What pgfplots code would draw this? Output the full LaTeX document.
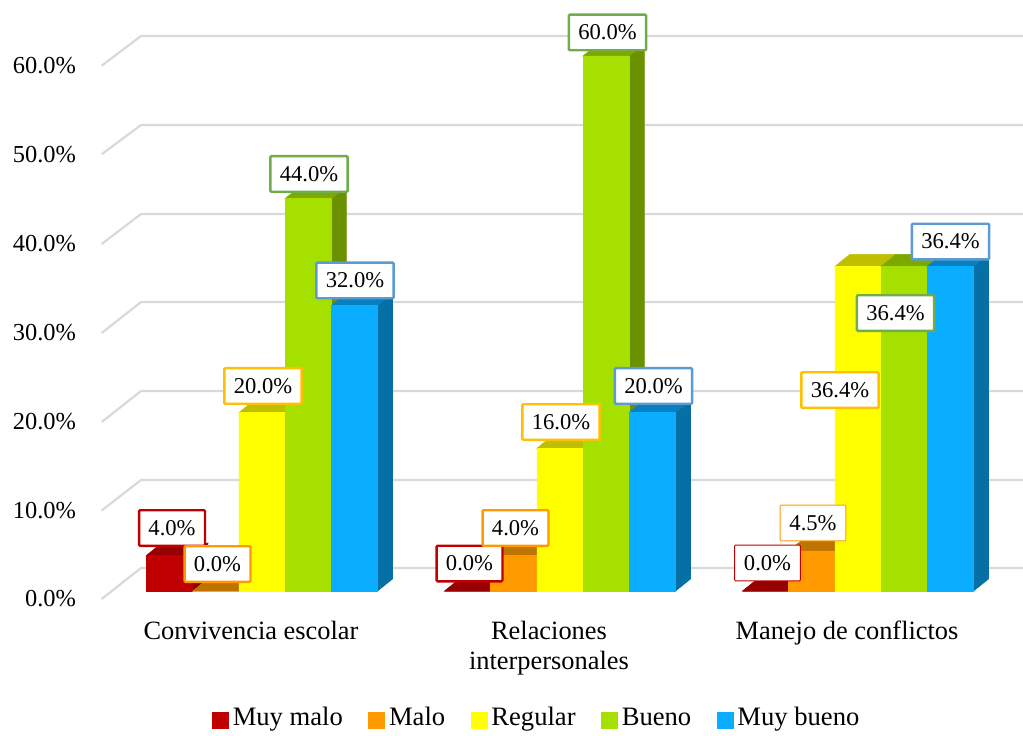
\documentclass[border=0pt]{standalone}
\usepackage{pgfplots}
\pgfplotsset{compat=1.18}
\usepackage{pgfplotstable}
\usepackage{fontspec}
\setmainfont{Liberation Serif}

\definecolor{cRed}{HTML}{C00000}
\definecolor{cRedT}{HTML}{960000}
\definecolor{cRedS}{HTML}{860000}
\definecolor{cOra}{HTML}{FF9900}
\definecolor{cOraT}{HTML}{BF7300}
\definecolor{cOraS}{HTML}{A86500}
\definecolor{cYel}{HTML}{FFFF00}
\definecolor{cYelT}{HTML}{BFBF00}
\definecolor{cYelS}{HTML}{A8A800}
\definecolor{cGre}{HTML}{A6E000}
\definecolor{cGreT}{HTML}{7CA800}
\definecolor{cGreS}{HTML}{6B9100}
\definecolor{cBlu}{HTML}{0AADFF}
\definecolor{cBluT}{HTML}{0880BF}
\definecolor{cBluS}{HTML}{066FA5}
\definecolor{bRed}{HTML}{C00000}
\definecolor{bOra}{HTML}{FF9900}
\definecolor{bYel}{HTML}{FFC000}
\definecolor{bGre}{HTML}{70AD47}
\definecolor{bBlu}{HTML}{5B9BD5}
\definecolor{gridc}{HTML}{D9D9D9}

% cat = group, v = percent, dx/dy = label offset (px), lw = box line width
\pgfplotstableread{
cat v dx dy lw
0 4.0 2.4 27.3 1.2
1 0.0 1.9 27.5 1.2
2 0.0 1.9 28.0 0.5
}\tblred
\pgfplotstableread{
cat v dx dy lw
0 0.0 1.7 27.0 1.2
1 4.0 1.7 27.3 1.2
2 4.5 1.2 27.9 0.5
}\tblora
\pgfplotstableread{
cat v dx dy lw
0 20.0 1.0 26.7 1.2
1 16.0 1.0 26.3 1.2
2 36.4 -18.0 -123.6 1.2
}\tblyel
\pgfplotstableread{
cat v dx dy lw
0 44.0 0.8 24.7 1.2
1 60.0 1.3 23.5 1.2
2 36.4 -8.7 -46.6 1.2
}\tblgre
\pgfplotstableread{
cat v dx dy lw
0 32.0 0.6 25.2 1.2
1 20.0 1.1 26.7 1.2
2 36.4 0.1 24.9 1.2
}\tblblu

% top and side face of one bar: group, shift, value, top colour, side colour
\newcommand\depthfaces[5]{%
  \pgfmathsetmacro\xa{#1+#2-0.0775}%
  \pgfmathsetmacro\xb{#1+#2+0.0775}%
  \pgfmathsetmacro\xc{\xa+0.0503}%
  \pgfmathsetmacro\xd{\xb+0.0503}%
  \pgfmathsetmacro\yt{#3+1.35}%
  \edef\tmp{\noexpand\addplot[fill=#5,draw=#5,line width=0.3pt,forget plot]
    coordinates {(\xb,0) (\xd,1.35) (\xd,\yt) (\xb,#3)} --cycle;
    \noexpand\addplot[fill=#4,draw=#4,line width=0.3pt,forget plot]
    coordinates {(\xa,#3) (\xc,\yt) (\xd,\yt) (\xb,#3)} --cycle;}%
  \tmp
}

\pgfplotsset{
  front/.style 2 args={ybar,bar width=0.155,bar shift=#2,fill=#1,draw=#1,line width=0.3pt,
    legend image code/.code={\fill[#1] (0pt,-4pt) rectangle (8pt,4pt);}},
  lab/.style 2 args={ybar,bar width=0.155,bar shift=#2,fill=none,draw=none,forget plot,
    visualization depends on={\thisrow{dx} \as \ldx},
    visualization depends on={\thisrow{dy} \as \ldy},
    visualization depends on={\thisrow{lw} \as \llw},
    nodes near coords={\pgfmathprintnumber[fixed,fixed zerofill,precision=1,assume math mode=true]{\pgfplotspointmeta}\%},
    nodes near coords align={center},
    every node near coord/.append style={anchor=center,fill=white,draw=#1,text=black,
      line width=\llw pt,rounded corners=0.5pt,inner xsep=4.7pt,inner ysep=0pt,minimum height=17.8pt,
      font=\fontsize{11.3}{13}\selectfont,xshift={(\ldx+#2*298)*0.5pt},yshift={\ldy*0.5pt}}},
  gridl/.style={draw=gridc,line width=1.1pt,forget plot},
}

\begin{document}
\begin{tikzpicture}
\begin{axis}[
  scale only axis,
  width=511.5pt, height=366.5pt,
  xmin=-0.8792, xmax=2.5537,
  ymin=-15.925, ymax=66.278,
  axis line style={draw=none},
  major tick length=0pt,
  tick style={draw=none},
  xtick={0,1,2},
  xticklabels={Convivencia escolar,{Relaciones\\interpersonales},Manejo de conflictos},
  xticklabel style={align=center,font=\fontsize{13.2}{15}\selectfont,xshift=-5.5pt,yshift=59.5pt},
  ytick={-0.90,9.03,18.95,28.93,38.91,48.98,58.91},
  yticklabels={0.0\%,10.0\%,20.0\%,30.0\%,40.0\%,50.0\%,60.0\%},
  yticklabel style={font=\fontsize{12.2}{14}\selectfont,xshift=41.5pt},
  legend columns=5,
  legend cell align=left,
  legend style={at={(0.207,0.018)},anchor=west,draw=none,fill=none,inner sep=0pt,
    font=\fontsize{13.3}{15}\selectfont,
    nodes={text height=9pt,text depth=3pt},
    /tikz/every even column/.append style={column sep=10.8pt}},
]
% grid: back wall lines with the diagonal on the side wall
\addplot[gridl] coordinates {(-0.538,-0.90) (-0.406,2.58) (2.5537,2.58)};
\addplot[gridl] coordinates {(-0.538,9.03) (-0.406,12.45) (2.5537,12.45)};
\addplot[gridl] coordinates {(-0.538,18.95) (-0.406,22.43) (2.5537,22.43)};
\addplot[gridl] coordinates {(-0.538,28.93) (-0.406,32.41) (2.5537,32.41)};
\addplot[gridl] coordinates {(-0.538,38.91) (-0.406,42.28) (2.5537,42.28)};
\addplot[gridl] coordinates {(-0.538,48.98) (-0.406,52.26) (2.5537,52.26)};
\addplot[gridl] coordinates {(-0.538,58.91) (-0.406,62.24) (2.5537,62.24)};

\depthfaces{0}{-0.31}{4.0}{cRedT}{cRedS}
\depthfaces{1}{-0.31}{0.0}{cRedT}{cRedS}
\depthfaces{2}{-0.31}{0.0}{cRedT}{cRedS}
\addplot[front={cRed}{-0.31}] table[x=cat,y=v] {\tblred};
\addlegendentry{Muy malo}

\depthfaces{0}{-0.155}{0.0}{cOraT}{cOraS}
\depthfaces{1}{-0.155}{4.0}{cOraT}{cOraS}
\depthfaces{2}{-0.155}{4.5}{cOraT}{cOraS}
\addplot[front={cOra}{-0.155}] table[x=cat,y=v] {\tblora};
\addlegendentry{Malo}

\depthfaces{0}{0}{20.0}{cYelT}{cYelS}
\depthfaces{1}{0}{16.0}{cYelT}{cYelS}
\depthfaces{2}{0}{36.4}{cYelT}{cYelS}
\addplot[front={cYel}{0}] table[x=cat,y=v] {\tblyel};
\addlegendentry{Regular}

\depthfaces{0}{0.155}{44.0}{cGreT}{cGreS}
\depthfaces{1}{0.155}{60.0}{cGreT}{cGreS}
\depthfaces{2}{0.155}{36.4}{cGreT}{cGreS}
\addplot[front={cGre}{0.155}] table[x=cat,y=v] {\tblgre};
\addlegendentry{Bueno}

\depthfaces{0}{0.31}{32.0}{cBluT}{cBluS}
\depthfaces{1}{0.31}{20.0}{cBluT}{cBluS}
\depthfaces{2}{0.31}{36.4}{cBluT}{cBluS}
\addplot[front={cBlu}{0.31}] table[x=cat,y=v] {\tblblu};
\addlegendentry{Muy bueno}

% data labels on top of all bars
\addplot[lab={bRed}{-0.31}] table[x=cat,y=v] {\tblred};
\addplot[lab={bOra}{-0.155}] table[x=cat,y=v] {\tblora};
\addplot[lab={bYel}{0}] table[x=cat,y=v] {\tblyel};
\addplot[lab={bGre}{0.155}] table[x=cat,y=v] {\tblgre};
\addplot[lab={bBlu}{0.31}] table[x=cat,y=v] {\tblblu};
\end{axis}
\end{tikzpicture}
\end{document}
